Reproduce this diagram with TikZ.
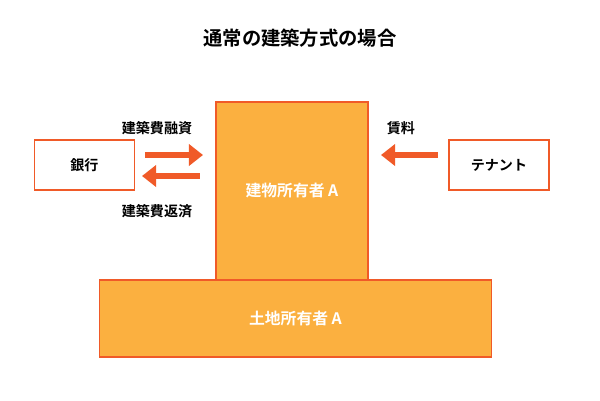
\documentclass[tikz,border=0pt]{standalone}
\usepackage{fontspec}
\newfontfamily\jp{Noto Sans CJK JP}[BoldFont={Noto Sans CJK JP Bold}]
\usetikzlibrary{arrows.meta}
\definecolor{fillor}{HTML}{FBB040}
\definecolor{lineor}{HTML}{F05A28}
\tikzset{
  party/.style={draw=lineor, fill=white, line width=0.6pt, minimum width=2cm, minimum height=1cm, font=\jp\bfseries\fontsize{8}{9}\selectfont},
  owner/.style={draw=lineor, fill=fillor, line width=0.8pt, font=\jp\bfseries\fontsize{9}{10}\selectfont, text=white},
  flow/.style={draw=lineor, line width=3.5pt, -{Triangle[length=8pt,width=12pt]}},
  lbl/.style={font=\jp\bfseries\fontsize{8}{9}\selectfont}
}
\begin{document}
\begin{tikzpicture}[x=0.02cm,y=-0.02cm]
        \useasboundingbox (0,0) rectangle (600,400);
        \node[font=\jp\bfseries\fontsize{11}{12}\selectfont] (title) at (300,38) {通常の建築方式の場合};

        \node[owner, minimum width=7.84cm, minimum height=1.54cm] (land) at (295.5,318.5) {土地所有者 A};
        \node[owner, minimum width=3.04cm, minimum height=3.56cm] (bldg) at (292,191) {建物所有者 A};
        \node[party] (bank) at (84.5,165) {銀行};
        \node[party] (tenant) at (499,165) {テナント};

        \coordinate (b1) at (145,155);
        \coordinate (b2) at (203,155);
        \coordinate (b3) at (200,176);
        \coordinate (b4) at (142,176);
        \coordinate (t1) at (438,155);
        \coordinate (t2) at (381,155);
        \draw[flow] (b1) -- (b2);
        \draw[flow] (b3) -- (b4);
        \draw[flow] (t1) -- (t2);

        \node[lbl] (loan) at (157,128) {建築費融資};
        \node[lbl] (repay) at (157,211) {建築費返済};
        \node[lbl] (rent) at (401,128) {賃料};
      \end{tikzpicture}
\end{document}
